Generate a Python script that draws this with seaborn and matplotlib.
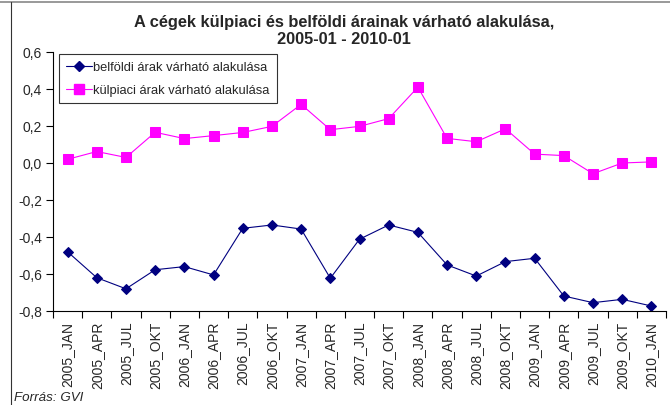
import matplotlib
matplotlib.use("Agg")
import matplotlib.pyplot as plt
from matplotlib.lines import Line2D
from matplotlib.ticker import FixedLocator, FuncFormatter
import seaborn as sns
import pandas as pd
import numpy as np

periods = ["2005_JAN", "2005_APR", "2005_JUL", "2005_OKT",
           "2006_JAN", "2006_APR", "2006_JUL", "2006_OKT",
           "2007_JAN", "2007_APR", "2007_JUL", "2007_OKT",
           "2008_JAN", "2008_APR", "2008_JUL", "2008_OKT",
           "2009_JAN", "2009_APR", "2009_JUL", "2009_OKT",
           "2010_JAN"]

belfoldi = [-0.48, -0.62, -0.68, -0.577, -0.56, -0.605, -0.353, -0.335,
            -0.357, -0.623, -0.412, -0.335, -0.375, -0.551, -0.611, -0.533,
            -0.515, -0.719, -0.755, -0.737, -0.773]

kulpiaci = [0.02, 0.062, 0.03, 0.166, 0.132, 0.148, 0.165, 0.198,
            0.317, 0.18, 0.198, 0.24, 0.41, 0.133, 0.115, 0.185,
            0.048, 0.04, -0.058, 0.0, 0.006]

name_b = "belföldi árak várható alakulása"
name_k = "külpiaci árak várható alakulása"
title_text = "A cégek külpiaci és belföldi árainak várható alakulása,\n2005-01 - 2010-01"
source_text = "Forrás: GVI"
yticks = [-0.8, -0.6, -0.4, -0.2, 0.0, 0.2, 0.4, 0.6]

sns.set_style("white")
plt.rcParams["font.family"] = ["Liberation Sans", "DejaVu Sans"]

df_b = pd.DataFrame({"period": periods, "value": belfoldi, "series": name_b})
df_k = pd.DataFrame({"period": periods, "value": kulpiaci, "series": name_k})

fig = plt.figure(figsize=(6.7, 4.06), dpi=100)
ax = fig.add_axes([53/670, 1-312/406, (666-53)/670, (312-53)/406])

navy = "#000080"
mag = "#FF00FF"
sns.lineplot(data=df_b, x="period", y="value", ax=ax, color=navy, marker="D",
             markersize=5, markeredgecolor=navy, linewidth=0.8, sort=False,
             legend=False)
sns.lineplot(data=df_k, x="period", y="value", ax=ax, color=mag, marker="s",
             markersize=7, markeredgecolor=mag, linewidth=0.8, sort=False,
             legend=False)

ax.set_xlim(-0.5, len(periods) - 0.5)
ax.set_ylim(-0.8, 0.6)
ax.set_xlabel("")
ax.set_ylabel("")

ax.xaxis.set_major_locator(FixedLocator(np.arange(len(periods))))
ax.set_xticklabels(periods, rotation=90, fontsize=10)
ax.xaxis.set_minor_locator(FixedLocator(np.arange(len(periods) + 1) - 0.5))
ax.tick_params(axis="x", which="major", length=0, pad=7)
ax.tick_params(axis="x", which="minor", length=5, width=0.8, color="black", direction="out")
ax.set_yticks(yticks)
ax.yaxis.set_major_formatter(FuncFormatter(lambda v, p: f"{v:.1f}".replace(".", ",").replace("-0,0", "0,0")))
ax.tick_params(axis="y", which="major", length=5, width=0.8, color="black",
               direction="out", labelsize=10, pad=3)
ax.tick_params(bottom=True, left=True, which="both")

for s in ["top", "right"]:
    ax.spines[s].set_visible(False)
for s in ["left", "bottom"]:
    ax.spines[s].set_color("black")
    ax.spines[s].set_linewidth(0.8)

handles = [Line2D([], [], color=navy, marker="D", markersize=5, linewidth=0.8),
           Line2D([], [], color=mag, marker="s", markersize=7, linewidth=0.8)]
leg = ax.legend(handles, [name_b, name_k], loc="upper left",
                bbox_to_anchor=(59/670, 1-55/406), bbox_transform=fig.transFigure,
                borderaxespad=0, fontsize=9.3, frameon=True, fancybox=False,
                handlelength=2.0, handletextpad=0.1, labelspacing=0.85,
                borderpad=0.55)
leg.get_frame().set_edgecolor("black")
leg.get_frame().set_linewidth(0.8)

fig.text(344/670, 1-15/406, title_text, ha="center", va="top",
         fontsize=11.8, fontweight="bold", linespacing=1.18)
fig.text(14/670, 1-398/406, source_text, ha="left", va="center",
         fontsize=9.6, style="italic")

# outer frame lines of the screenshot
fig.add_artist(Line2D([0, 1], [1-3/406, 1-3/406], color="#888888", linewidth=1.2,
                      transform=fig.transFigure))
fig.add_artist(Line2D([11/670, 11/670], [0, 1-3/406], color="#333333", linewidth=0.8,
                      transform=fig.transFigure))

fig.savefig("out.png", dpi=100)
